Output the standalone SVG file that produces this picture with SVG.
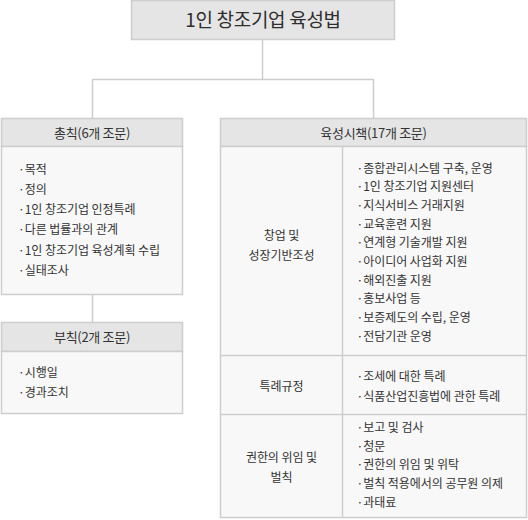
<svg xmlns="http://www.w3.org/2000/svg" width="528" height="520" viewBox="0 0 528 520">
<style>
.hd{fill:#e5e5e5;stroke:#cdcdcd;stroke-width:1.5}
.bd{fill:#f8f8f8;stroke:#cdcdcd;stroke-width:1.5}
.ln{stroke:#cdcdcd;stroke-width:1.5;fill:none}
text{font-family:"Noto Sans CJK KR","Noto Sans",sans-serif;fill:#333}
.t{font-size:19px;letter-spacing:-0.3px;text-anchor:middle;fill:#2e2e2e}
.h{font-size:13px;letter-spacing:-0.3px;text-anchor:middle}
.i{font-size:12px;letter-spacing:-0.05px}
.c{font-size:12px;letter-spacing:-0.05px;text-anchor:middle}
</style>
<rect width="528" height="520" fill="#ffffff"/>
<g id="connectors">
<path class="ln" d="M262.5,40 V79.5 M92.5,79.5 H373.5 M92.5,79 V118 M373.5,79 V118 M92.5,295 V322"/>
</g>
<g id="title">
<rect class="hd" x="131.5" y="0.5" width="263" height="39"/>
<text class="t" x="263" y="27">1인 창조기업 육성법</text>
</g>
<g id="general">
<rect class="hd" x="1.5" y="118.5" width="181" height="28"/>
<rect class="bd" x="1.5" y="146.5" width="181" height="148"/>
<text class="h" x="92" y="137.5">총칙(6개 조문)</text>
<text class="i" x="18" y="173.5">·목적</text>
<text class="i" x="18" y="193.8">·정의</text>
<text class="i" x="18" y="214">·1인 창조기업 인정특례</text>
<text class="i" x="18" y="234.3">·다른 법률과의 관계</text>
<text class="i" x="18" y="254.6">·1인 창조기업 육성계획 수립</text>
<text class="i" x="18" y="275">·실태조사</text>
</g>
<g id="supplementary">
<rect class="hd" x="1.5" y="322.5" width="181" height="29"/>
<rect class="bd" x="1.5" y="351.5" width="181" height="62"/>
<text class="h" x="92" y="341.5">부칙(2개 조문)</text>
<text class="i" x="18" y="377">·시행일</text>
<text class="i" x="18" y="397">·경과조치</text>
</g>
<g id="policy">
<rect class="hd" x="220.5" y="118.5" width="306" height="28"/>
<rect class="bd" x="220.5" y="146.5" width="306" height="371"/>
<path class="ln" d="M342.5,146.5 V517.5 M220.5,355.5 H526.5 M220.5,414.5 H526.5"/>
<text class="h" x="373.5" y="137.5">육성시책(17개 조문)</text>
<text class="c" x="281.5" y="240">창업 및</text>
<text class="c" x="281.5" y="260">성장기반조성</text>
<text class="i" x="356.5" y="172.5">·종합관리시스템 구축, 운영</text>
<text class="i" x="356.5" y="191.2">·1인 창조기업 지원센터</text>
<text class="i" x="356.5" y="209.9">·지식서비스 거래지원</text>
<text class="i" x="356.5" y="228.6">·교육훈련 지원</text>
<text class="i" x="356.5" y="247.3">·연계형 기술개발 지원</text>
<text class="i" x="356.5" y="266">·아이디어 사업화 지원</text>
<text class="i" x="356.5" y="284.7">·해외진출 지원</text>
<text class="i" x="356.5" y="303.4">·홍보사업 등</text>
<text class="i" x="356.5" y="322.1">·보증제도의 수립, 운영</text>
<text class="i" x="356.5" y="340.8">·전담기관 운영</text>
<text class="c" x="281.5" y="391">특례규정</text>
<text class="i" x="356.5" y="381">·조세에 대한 특례</text>
<text class="i" x="356.5" y="401">·식품산업진흥법에 관한 특례</text>
<text class="c" x="281.5" y="462">권한의 위임 및</text>
<text class="c" x="281.5" y="482">벌칙</text>
<text class="i" x="356.5" y="432">·보고 및 검사</text>
<text class="i" x="356.5" y="450.7">·청문</text>
<text class="i" x="356.5" y="469.4">·권한의 위임 및 위탁</text>
<text class="i" x="356.5" y="488.1">·벌칙 적용에서의 공무원 의제</text>
<text class="i" x="356.5" y="506.8">·과태료</text>
</g>
</svg>
